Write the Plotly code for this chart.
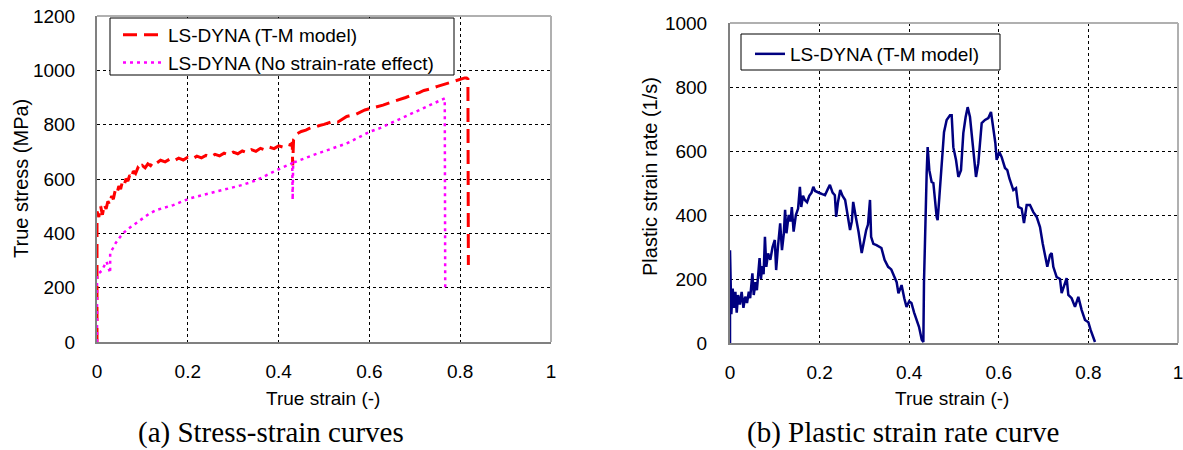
import plotly.graph_objects as go

# ---- (a) Stress-strain curves: (true strain, true stress MPa) ----
tm_points = [
    (0.0, 0), (0.0, 480), (0.004, 460), (0.008, 500), (0.012, 468), (0.016, 506), (0.02, 490),
    (0.024, 518), (0.028, 506), (0.032, 537), (0.036, 526), (0.04, 557), (0.044, 546),
    (0.048, 574), (0.052, 563), (0.056, 590), (0.06, 579), (0.064, 601), (0.068, 592),
    (0.072, 614), (0.076, 604), (0.08, 629), (0.085, 620), (0.09, 641), (0.095, 632),
    (0.1, 649), (0.106, 641), (0.112, 656), (0.118, 649), (0.124, 663), (0.13, 657),
    (0.14, 669), (0.15, 663), (0.16, 673), (0.17, 667), (0.18, 677), (0.19, 670),
    (0.2, 680), (0.21, 674), (0.22, 684), (0.23, 678), (0.24, 687), (0.25, 681),
    (0.26, 691), (0.27, 685), (0.28, 695), (0.29, 689), (0.3, 699), (0.31, 693),
    (0.32, 703), (0.33, 697), (0.34, 708), (0.35, 702), (0.36, 713), (0.37, 707),
    (0.38, 717), (0.39, 712), (0.4, 722), (0.41, 717), (0.42, 728), (0.428, 724),
    (0.43, 736), (0.431, 650), (0.433, 745), (0.437, 752), (0.44, 766), (0.45, 775),
    (0.46, 780), (0.47, 788), (0.48, 791), (0.49, 797), (0.5, 801), (0.52, 812),
    (0.53, 809), (0.55, 830), (0.57, 838), (0.59, 854), (0.601, 859), (0.62, 866),
    (0.63, 872), (0.65, 884), (0.67, 893), (0.68, 900), (0.697, 912), (0.71, 918),
    (0.72, 926), (0.735, 932), (0.75, 941), (0.76, 946), (0.77, 953), (0.78, 956),
    (0.79, 962), (0.803, 968), (0.81, 972), (0.814, 972), (0.817, 968), (0.818, 283),
]
nr_points = [
    (0.0, 0), (0.0, 247), (0.01, 262), (0.021, 296), (0.029, 254), (0.029, 327), (0.035, 345),
    (0.041, 364), (0.05, 385), (0.058, 401), (0.07, 418), (0.08, 430), (0.09, 444),
    (0.102, 456), (0.115, 472), (0.131, 486), (0.15, 496), (0.168, 504), (0.205, 529),
    (0.24, 544), (0.279, 559), (0.32, 578), (0.352, 596), (0.396, 633), (0.43, 658),
    (0.431, 523), (0.432, 660), (0.476, 688), (0.55, 731), (0.601, 774), (0.623, 787),
    (0.697, 843), (0.748, 884), (0.766, 897), (0.767, 199),
]
tm_strain = [p[0] for p in tm_points]
tm_stress = [p[1] for p in tm_points]
nr_strain = [p[0] for p in nr_points]
nr_stress = [p[1] for p in nr_points]

# ---- (b) Plastic strain rate curve: (true strain, plastic strain rate 1/s) ----
pr_points = [
    (0.0, 0), (0.0, 290), (0.003, 90), (0.006, 170), (0.009, 110), (0.012, 160), (0.015, 95),
    (0.018, 150), (0.022, 120), (0.026, 160), (0.030, 110), (0.034, 145), (0.038, 125),
    (0.042, 160), (0.045, 140), (0.048, 176), (0.050, 218), (0.053, 150), (0.057, 190),
    (0.060, 165), (0.063, 206), (0.066, 265), (0.069, 200), (0.072, 240), (0.075, 215),
    (0.078, 332), (0.081, 238), (0.085, 280), (0.090, 260), (0.095, 300), (0.100, 322),
    (0.103, 228), (0.107, 300), (0.112, 374), (0.116, 290), (0.120, 340), (0.123, 416),
    (0.126, 343), (0.131, 400), (0.135, 380), (0.138, 425), (0.142, 348), (0.147, 400),
    (0.152, 420), (0.156, 488), (0.159, 425), (0.163, 460), (0.167, 447), (0.172, 440),
    (0.177, 460), (0.182, 470), (0.186, 488), (0.190, 475), (0.196, 470), (0.201, 468),
    (0.206, 465), (0.212, 462), (0.218, 480), (0.223, 494), (0.229, 470), (0.234, 462),
    (0.237, 394), (0.241, 440), (0.246, 478), (0.251, 460), (0.257, 447), (0.262, 400),
    (0.268, 353), (0.272, 380), (0.275, 441), (0.280, 400), (0.287, 347), (0.294, 281),
    (0.300, 330), (0.304, 353), (0.308, 370), (0.3125, 447), (0.315, 332), (0.320, 310),
    (0.327, 306), (0.333, 300), (0.338, 297), (0.345, 260), (0.353, 238), (0.360, 230),
    (0.368, 206), (0.372, 190), (0.376, 155), (0.383, 181), (0.389, 140), (0.394, 113),
    (0.400, 130), (0.405, 125), (0.411, 95), (0.417, 72), (0.422, 50), (0.428, 10),
    (0.4316, 3), (0.433, 188), (0.4368, 437), (0.439, 531), (0.4412, 612), (0.4449, 540),
    (0.4501, 503), (0.4539, 500), (0.4613, 394), (0.4635, 384), (0.4673, 456), (0.4725, 550),
    (0.4777, 659), (0.4836, 697), (0.4911, 712), (0.4948, 712), (0.4985, 612), (0.5045, 572),
    (0.5097, 519), (0.5156, 540), (0.5208, 656), (0.5260, 706), (0.5305, 737), (0.5357, 706),
    (0.5432, 603), (0.5491, 519), (0.5543, 562), (0.5618, 687), (0.5692, 697), (0.5766, 703),
    (0.5826, 722), (0.5878, 666), (0.5923, 625), (0.5952, 572), (0.6012, 597), (0.6064, 581),
    (0.6138, 547), (0.6190, 540), (0.6235, 515), (0.6324, 478), (0.6384, 484), (0.6436, 425),
    (0.6510, 420), (0.6562, 375), (0.6622, 431), (0.6696, 431), (0.6771, 409), (0.6845, 394),
    (0.6920, 362), (0.6979, 312), (0.7031, 269), (0.7083, 238), (0.7143, 275), (0.7180, 281),
    (0.7217, 238), (0.7292, 206), (0.7366, 200), (0.7403, 156), (0.7515, 203), (0.7552, 150),
    (0.7626, 140), (0.7701, 113), (0.7775, 144), (0.7850, 103), (0.7924, 72), (0.7999, 65),
    (0.8051, 40), (0.8095, 20), (0.8147, 3),
]
pr_strain = [p[0] for p in pr_points]
pr_rate = [p[1] for p in pr_points]

x_ticks = [0, 0.2, 0.4, 0.6, 0.8, 1]
x_ticklabels = ["0", "0.2", "0.4", "0.6", "0.8", "1"]
y1_ticks = [0, 200, 400, 600, 800, 1000, 1200]
y2_ticks = [0, 200, 400, 600, 800, 1000]

FONT = "Liberation Sans, Arial, sans-serif"
SERIF = "Liberation Serif, Times New Roman, serif"
W, H = 1183, 450

fig = go.Figure()
fig.add_trace(go.Scatter(x=tm_strain, y=tm_stress, mode="lines", name="LS-DYNA (T-M model)",
                         line=dict(color="#FF0000", width=3, dash="14px,7px"),
                         xaxis="x", yaxis="y", legend="legend"))
fig.add_trace(go.Scatter(x=nr_strain, y=nr_stress, mode="lines", name="LS-DYNA (No strain-rate effect)",
                         line=dict(color="#FF00FF", width=2.5, dash="3px,4px"),
                         xaxis="x", yaxis="y", legend="legend"))
fig.add_trace(go.Scatter(x=pr_strain, y=pr_rate, mode="lines", name="LS-DYNA (T-M model)",
                         line=dict(color="#000080", width=2.5),
                         xaxis="x2", yaxis="y2", legend="legend2"))

axis_common = dict(showgrid=True, gridcolor="black", gridwidth=1, griddash="3px,3px",
                   showline=True, linecolor="#808080", linewidth=2, mirror=False,
                   zeroline=False, ticks="", automargin=False, ticklabeloverflow="allow",
                   tickfont=dict(family=FONT, size=19, color="black"))

fig.update_layout(
    width=W, height=H,
    margin=dict(l=0, r=0, t=0, b=0, autoexpand=False),
    paper_bgcolor="white", plot_bgcolor="white",
    showlegend=True,
    xaxis=dict(domain=[97/W, 551/W], range=[0, 1], tickvals=x_ticks, ticktext=x_ticklabels,
               anchor="y", ticklabelstandoff=11, **axis_common),
    yaxis=dict(domain=[108/H, 434/H], range=[0, 1200], tickvals=y1_ticks,
               anchor="x", ticklabelstandoff=16, **axis_common),
    xaxis2=dict(domain=[730/W, 1178/W], range=[0, 1], tickvals=x_ticks, ticktext=x_ticklabels,
                anchor="y2", ticklabelstandoff=11, **axis_common),
    yaxis2=dict(domain=[107/H, 427/H], range=[0, 1000], tickvals=y2_ticks,
                anchor="x2", ticklabelstandoff=17, **axis_common),
    legend=dict(x=118/W, y=1-16/H, xanchor="left", yanchor="top",
                borderwidth=0, bgcolor="rgba(0,0,0,0)",
                font=dict(family=FONT, size=19, color="black"), tracegroupgap=0,
                itemwidth=40),
    legend2=dict(x=750/W, y=1-35/H, xanchor="left", yanchor="top",
                 borderwidth=0, bgcolor="rgba(0,0,0,0)",
                 font=dict(family=FONT, size=19, color="black"), itemwidth=30),
)

# legend boxes (white, black border), drawn in paper pixels
for (x0, y0, x1, y1) in [(110, 18, 454, 75), (741, 34, 1000, 70)]:
    fig.add_shape(type="rect", xref="paper", yref="paper", x0=x0/W, x1=x1/W, y0=1-y0/H, y1=1-y1/H,
                  fillcolor="white", line=dict(color="black", width=1), layer="above")

# light frame on top/right
for xr, yr in [("x", "y"), ("x2", "y2")]:
    fig.add_shape(type="line", xref=f"{xr} domain", yref=f"{yr} domain", x0=0, x1=1, y0=1, y1=1,
                  line=dict(color="#B0B0B0", width=2))
    fig.add_shape(type="line", xref=f"{xr} domain", yref=f"{yr} domain", x0=1, x1=1, y0=0, y1=1,
                  line=dict(color="#B0B0B0", width=2))

annots = [
    dict(text="True strain (-)", x=323/W, y=1-398/H, size=19, angle=0),
    dict(text="True strain (-)", x=952/W, y=1-398/H, size=19, angle=0),
    dict(text="True stress (MPa)", x=21/W, y=1-179/H, size=20, angle=-90),
    dict(text="Plastic strain rate (1/s)", x=650/W, y=1-177/H, size=20, angle=-90),
]
for a in annots:
    fig.add_annotation(xref="paper", yref="paper", showarrow=False, xanchor="center", yanchor="middle",
                       text=a["text"], x=a["x"], y=a["y"], textangle=a["angle"],
                       font=dict(family=FONT, size=a["size"], color="black"))

fig.add_annotation(text="(a) Stress-strain curves", xref="paper", yref="paper", x=271/W, y=0,
                   showarrow=False, xanchor="center", yanchor="bottom", borderpad=0,
                   font=dict(family=SERIF, size=29, color="black"))
fig.add_annotation(text="(b) Plastic strain rate curve", xref="paper", yref="paper", x=903/W, y=0,
                   showarrow=False, xanchor="center", yanchor="bottom", borderpad=0,
                   font=dict(family=SERIF, size=29, color="black"))

fig.write_html("out.html")
